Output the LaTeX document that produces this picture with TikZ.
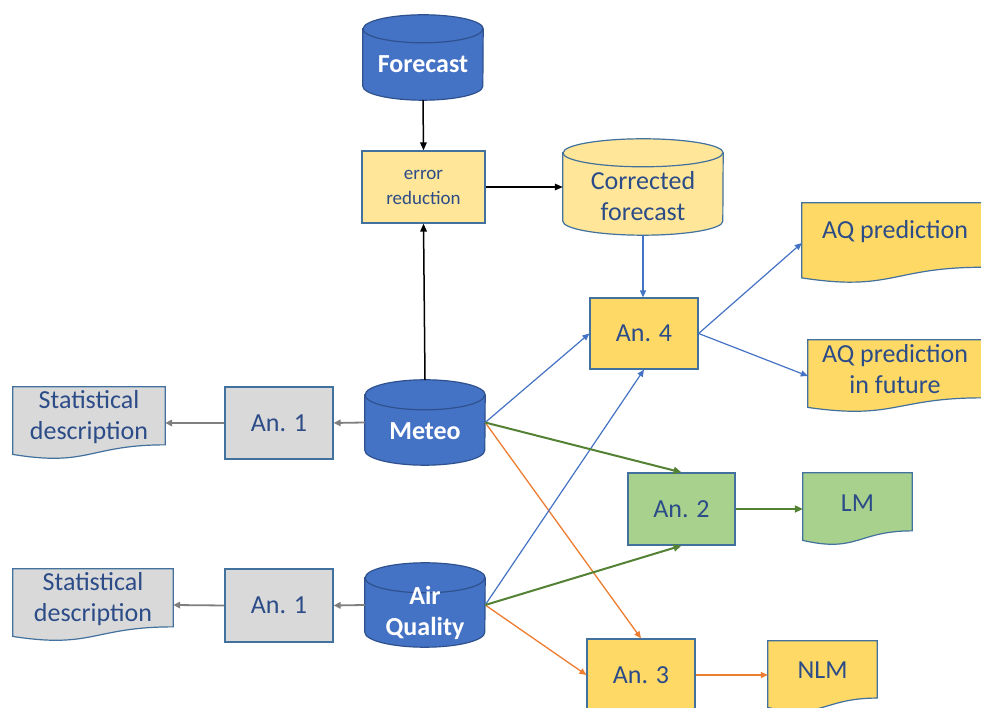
\documentclass[tikz,border=0pt]{standalone}
\usepackage{fontspec}
\setmainfont{Carlito}
\usetikzlibrary{arrows.meta,calc}
\definecolor{cylblue}{HTML}{4472C4}
\definecolor{cylborder}{HTML}{2F528F}
\definecolor{boxborder}{HTML}{41719C}
\definecolor{txt}{HTML}{2C4C88}
\definecolor{lyel}{HTML}{FFE699}
\definecolor{gold}{HTML}{FFD966}
\definecolor{lgreen}{HTML}{A9D18E}
\definecolor{lgray}{HTML}{D9D9D9}
\definecolor{agray}{HTML}{7F7F7F}
\definecolor{ablue}{HTML}{4472C4}
\definecolor{agreen}{HTML}{548235}
\definecolor{aorange}{HTML}{ED7D31}
\newcommand{\cylshape}[4]{%
  \filldraw[#2] ($(#1.north west)+(0,-#4)$) -- ($(#1.south west)+(0,#4)$)
    arc[start angle=180,end angle=360,x radius=#3pt,y radius=#4pt]
    -- ($(#1.north east)+(0,-#4)$)
    arc[start angle=0,end angle=180,x radius=#3pt,y radius=#4pt] -- cycle;
  \draw[#2,fill=none] ($(#1.north west)+(0,-#4)$)
    arc[start angle=180,end angle=360,x radius=#3pt,y radius=#4pt];}
\newcommand{\docshape}[2]{%
  \filldraw[#2] (#1.north west) -- (#1.north east)
    -- ($(#1.north east)!0.802!(#1.south east)$)
    .. controls ($(#1.north)!0.802!(#1.south)$) and ($(#1.north)!1.1075!(#1.south)$)
    .. ($(#1.north west)!0.934!(#1.south west)$) -- cycle;}
\tikzset{
  holder/.style={inner sep=0pt, draw=none, fill=none},
  bigfont/.style={font=\fontsize{26}{31}\selectfont},
  cyltext/.style={bigfont, font=\fontsize{26}{31}\selectfont\bfseries, text=white, align=center, inner sep=0pt},
  doctext/.style={bigfont, text=txt, align=center, inner sep=0pt},
  boxst/.style={draw=boxborder, line width=1.2pt, bigfont, text=txt, align=center, inner sep=0pt},
  cylfill/.style={fill=cylblue, draw=cylborder, line width=1.2pt},
  cylyel/.style={fill=lyel, draw=boxborder, line width=1.2pt},
  docgray/.style={fill=lgray, draw=boxborder, line width=1.2pt},
  docgold/.style={fill=gold, draw=boxborder, line width=1.2pt},
  docgreen/.style={fill=lgreen, draw=boxborder, line width=1.2pt},
  blk/.style={draw=black, line width=1.5pt, -{Triangle[length=8pt,width=6.5pt]}},
  blu/.style={draw=ablue, line width=1.2pt, -{Triangle[length=7pt,width=6pt]}},
  grn/.style={draw=agreen, line width=2pt, -{Triangle[length=8pt,width=7pt]}},
  org/.style={draw=aorange, line width=1.3pt, -{Triangle[length=7pt,width=6pt]}},
  gry/.style={draw=agray, line width=1.8pt, -{Triangle[length=7pt,width=6.5pt]}},
}
\begin{document}
\begin{tikzpicture}[x=1pt,y=1pt]
\useasboundingbox (0,0) rectangle (981,708);
\clip (0,0) rectangle (981,708);
\fill[white] (0,0) rectangle (981,708);
% cylinders
\node[holder, minimum width=120pt, minimum height=85pt] (forecast) at (423,650.5) {};
\cylshape{forecast}{cylfill}{60}{14}
\node[cyltext] (forecast-t) at ([yshift=-7pt]forecast.center) {Forecast};
\node[holder, minimum width=160pt, minimum height=96pt] (corrected) at (643,521) {};
\cylshape{corrected}{cylyel}{80}{14}
\node[doctext] (corrected-t) at ([yshift=-9pt]corrected.center) {Corrected\\forecast};
\node[holder, minimum width=120pt, minimum height=85pt] (meteo) at (425,285.5) {};
\cylshape{meteo}{cylfill}{60}{15}
\node[cyltext] (meteo-t) at ([yshift=-9pt]meteo.center) {Meteo};
\node[holder, minimum width=120pt, minimum height=84pt] (airq) at (425,103) {};
\cylshape{airq}{cylfill}{60}{15}
\node[cyltext] (airq-t) at ([yshift=-8pt]airq.center) {Air\\Quality};
% boxes
\node[boxst, fill=lyel, minimum width=123pt, minimum height=72pt, font=\fontsize{19}{25}\selectfont] (err) at (423.5,521) {error\\reduction};
\node[boxst, fill=lgray, minimum width=108pt, minimum height=72pt] (an1a) at (279,285) {An. 1};
\node[boxst, fill=lgray, minimum width=108pt, minimum height=73pt] (an1b) at (279,102.5) {An. 1};
\node[boxst, fill=gold, minimum width=108pt, minimum height=71pt] (an4) at (644,374.5) {An. 4};
\node[boxst, fill=lgreen, minimum width=107pt, minimum height=72pt] (an2) at (681.5,199) {An. 2};
\node[boxst, fill=gold, minimum width=108pt, minimum height=72pt] (an3) at (641,33) {An. 3};
% documents
\node[holder, minimum width=152pt, minimum height=72pt] (stat1) at (89,285) {};
\docshape{stat1}{docgray}
\node[doctext] (stat1-t) at ([yshift=6pt]stat1.center) {Statistical\\description};
\node[holder, minimum width=160pt, minimum height=72pt] (stat2) at (93,103) {};
\docshape{stat2}{docgray}
\node[doctext] (stat2-t) at ([yshift=6pt]stat2.center) {Statistical\\description};
\node[holder, minimum width=180pt, minimum height=80pt] (aqp) at (892,465) {};
\docshape{aqp}{docgold}
\node[doctext] (aqp-t) at ([yshift=11pt,xshift=3pt]aqp.center) {AQ prediction};
\node[holder, minimum width=174pt, minimum height=72pt] (aqf) at (895,332) {};
\docshape{aqf}{docgold}
\node[doctext] (aqf-t) at ([yshift=7pt]aqf.center) {AQ prediction\\in future};
\node[holder, minimum width=109pt, minimum height=72pt] (lm) at (857.5,199) {};
\docshape{lm}{docgreen}
\node[doctext] (lm-t) at ([yshift=6pt]lm.center) {LM};
\node[holder, minimum width=109pt, minimum height=71pt] (nlm) at (822.5,31.5) {};
\docshape{nlm}{docgold}
\node[doctext] (nlm-t) at ([yshift=6pt]nlm.center) {NLM};
% connectors
\draw[blk] (forecast.south) -- (err.north);
\draw[blk] (meteo.north) -- (err.south);
\draw[blk] (err.east) -- (corrected.west);
\draw[org] (meteo.east) -- (an3.north);
\draw[org] (airq.east) -- (an3.west);
\draw[org] (an3.east) -- (an3.east -| nlm.west);
\draw[blu] (corrected.south) -- (corrected.south |- an4.north);
\draw[blu] (an4.east) -- (aqp.west);
\draw[blu] (an4.east) -- (aqf.west);
\draw[blu] (meteo.east) -- (an4.west);
\draw[blu] (airq.east) -- (an4.south);
\draw[grn] (meteo.east) -- (an2.north);
\draw[grn] (airq.east) -- (an2.south);
\draw[grn] (an2.east) -- (lm.west);
\draw[gry] (meteo.west) -- (an1a.east);
\draw[gry] (an1a.west) -- (stat1.east);
\draw[gry] (airq.west) -- (an1b.east);
\draw[gry] (an1b.west) -- (stat2.east);
\end{tikzpicture}
\end{document}
